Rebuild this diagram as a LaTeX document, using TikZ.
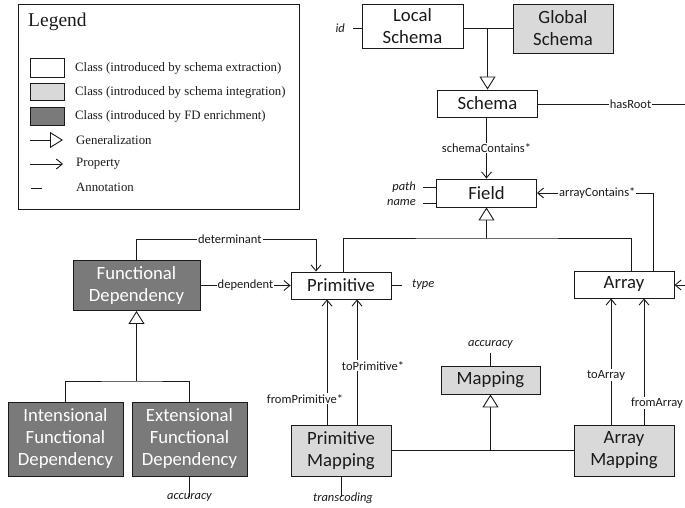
\documentclass[tikz,border=0pt]{standalone}
\usepackage{fontspec}
\setmainfont{Liberation Serif}
\newfontfamily\boxfont{Carlito}
\usetikzlibrary{arrows.meta}
\definecolor{lgray}{HTML}{D9D9D9}
\definecolor{dgray}{HTML}{7A7A7A}
\definecolor{ink}{HTML}{1A1A1A}
\tikzset{
  cls/.style={draw=ink, line width=0.9pt, rectangle, inner sep=0pt, align=center,
     font=\boxfont\fontsize{18.7}{22}\selectfont, text=ink},
  white box/.style={cls, fill=white},
  light box/.style={cls, fill=lgray},
  dark box/.style={cls, fill=dgray, text=white},
  lbl/.style={fill=white, inner sep=1pt, font=\boxfont\fontsize{12.5}{14}\selectfont, text=ink},
  annot/.style={inner sep=0pt, font=\boxfont\itshape\fontsize{12.5}{14}\selectfont, text=ink},
  conn/.style={draw=ink, line width=0.9pt},
  prop/.style={conn, -{Straight Barb[length=6pt,width=10pt]}},
  gen/.style={conn, -{Triangle[open, length=13pt, width=16pt, fill=white]}},
  legtext/.style={anchor=west, inner sep=0pt, font=\fontsize{12.8}{14}\selectfont, text=ink},
  legbox/.style={draw=ink, line width=0.9pt, minimum width=34pt, inner sep=0pt},
}
\begin{document}
\begin{tikzpicture}[x=1pt, y=-1pt]
\useasboundingbox (0,0) rectangle (685,508);
\clip (0,0) rectangle (685,508);

% ---------------- Legend ----------------
\node[draw=ink, line width=0.9pt, minimum width=281pt, minimum height=205pt, inner sep=0pt] (legend) at (158.5,106.5) {};
\node[anchor=west, inner sep=0pt, font=\fontsize{19.5}{22}\selectfont, text=ink] (legtitle) at (28,22) {Legend};
\node[legbox, fill=white, minimum height=19pt] (lb1) at (47,67.5) {};
\node[legtext] (lt1) at (75,68) {Class (introduced by schema extraction)};
\node[legbox, fill=lgray, minimum height=17pt] (lb2) at (47,91.5) {};
\node[legtext] (lt2) at (75,92) {Class (introduced by schema integration)};
\node[legbox, fill=dgray, minimum height=18pt] (lb3) at (47,116) {};
\node[legtext] (lt3) at (75,116) {Class (introduced by FD enrichment)};
\coordinate (lg1) at (30,140); \coordinate (lg2) at (63,140);
\draw[gen] (lg1) -- (lg2);
\node[legtext] (lt4) at (76,140) {Generalization};
\coordinate (lp1) at (30,164); \coordinate (lp2) at (63,164);
\draw[prop] (lp1) -- (lp2);
\node[legtext] (lt5) at (76,163.5) {Property};
\coordinate (la1) at (31,188.5); \coordinate (la2) at (42,188.5);
\draw[conn] (la1) -- (la2);
\node[legtext] (lt6) at (76,187.5) {Annotation};

% ---------------- Classes ----------------
\node[white box, minimum width=101pt, minimum height=44pt] (LS) at (412.5,26) {Local\\Schema};
\node[light box, minimum width=100pt, minimum height=49pt] (GS) at (563,28.5) {Global\\Schema};
\node[white box, minimum width=100pt, minimum height=27pt] (Schema) at (487.5,103.5) {Schema};
\node[white box, minimum width=100pt, minimum height=28pt] (Field) at (486.5,193) {Field};
\node[white box, minimum width=100pt, minimum height=27pt] (Prim) at (341,285.5) {Primitive};
\node[white box, minimum width=100pt, minimum height=27pt] (Array) at (624,284.5) {Array};
\node[dark box, minimum width=127pt, minimum height=50pt] (FD) at (136.5,285.5) {Functional\\Dependency};
\node[dark box, minimum width=115pt, minimum height=74pt] (IFD) at (65.5,439) {Intensional\\Functional\\Dependency};
\node[dark box, minimum width=115pt, minimum height=74pt] (EFD) at (189.5,439) {Extensional\\Functional\\Dependency};
\node[light box, minimum width=99pt, minimum height=28pt] (Map) at (490.5,380) {Mapping};
\node[light box, minimum width=100pt, minimum height=51pt] (PM) at (341,450.5) {Primitive\\Mapping};
\node[light box, minimum width=100pt, minimum height=51pt] (AM) at (624,450.5) {Array\\Mapping};

% ---------------- Annotations ----------------
\node[annot, anchor=east] (id) at (345,28) {id};
\draw[conn] (LS.west |- id) -- ([xshift=8pt]id.east);
\node[annot, anchor=east] (path) at (416,187) {path};
\draw[conn] (Field.west |- path) -- ([xshift=7pt]path.east);
\node[annot, anchor=east] (name) at (416,203) {name};
\draw[conn] (Field.west |- name) -- ([xshift=7pt]name.east);
\node[annot, anchor=west] (type) at (412,285) {type};
\draw[conn] (Prim.east |- type) -- ([xshift=-10pt]type.west);
\node[annot] (acc1) at (490.5,344) {accuracy};
\draw[conn] (Map.north) -- ([yshift=-5pt]acc1.south);
\node[annot] (acc2) at (189.5,497.5) {accuracy};
\draw[conn] (EFD.south) -- ([yshift=-4pt]acc2.north);
\node[annot] (trans) at (343,498.5) {transcoding};
\draw[conn] (PM.south) -- ([yshift=-4pt]trans.north -| PM.south);

% ---------------- Generalizations ----------------
\coordinate (sbus) at (487.5,28);
\draw[conn] (LS.east |- sbus) -- (GS.west |- sbus);
\draw[gen] (sbus) -- (Schema.north);

\coordinate (fbus) at (486.5,238);
\draw[conn] ([xshift=2pt]Prim.north) |- (fbus) -| ([xshift=7pt]Array.north);
\draw[gen] (fbus) -- (Field.south);

\coordinate (dbus) at (136.5,381);
\draw[conn] (IFD.north) |- (dbus) -| (EFD.north);
\draw[gen] (dbus) -- (FD.south);

\coordinate (mbus) at (490.5,450.5);
\draw[conn] (PM.east) -- (AM.west);
\draw[gen] (mbus) -- (Map.south);

% ---------------- Properties ----------------
\coordinate (hr) at (685,104);
\draw[conn] (Schema.east |- hr) -- node[lbl, pos=0.63] {hasRoot} (hr);

\draw[prop] (Schema.south -| Field.north) -- node[lbl] {schemaContains*} (Field.north);

\coordinate (acc) at (653,193);
\draw[prop] (Array.north -| acc) |- node[lbl, pos=0.74] {arrayContains*} (Field.east);

\coordinate (ae) at (686,285);
\draw[prop] (ae) -- (Array.east |- ae);

\coordinate (det) at (316,239);
\draw[prop] (FD.north) |- node[lbl, pos=0.76] {determinant} (det) -- (det |- Prim.north);

\draw[prop] (FD.east |- Prim) -- node[lbl] {dependent} (Prim.west);

\draw[prop] ([xshift=-14pt]PM.north) -- node[lbl, pos=0.206, xshift=-22pt] {fromPrimitive*} ([xshift=-14pt]Prim.south);
\draw[prop] ([xshift=16pt]PM.north) -- node[lbl, pos=0.47, xshift=16pt] {toPrimitive*} ([xshift=16pt]Prim.south);

\draw[prop] ([xshift=-13pt]AM.north) -- node[lbl, pos=0.39, xshift=-5pt] {toArray} ([xshift=-13pt]Array.south);
\draw[prop] ([xshift=20pt]AM.north) -- node[lbl, pos=0.17, xshift=13pt] {fromArray} ([xshift=20pt]Array.south);
\end{tikzpicture}
\end{document}
